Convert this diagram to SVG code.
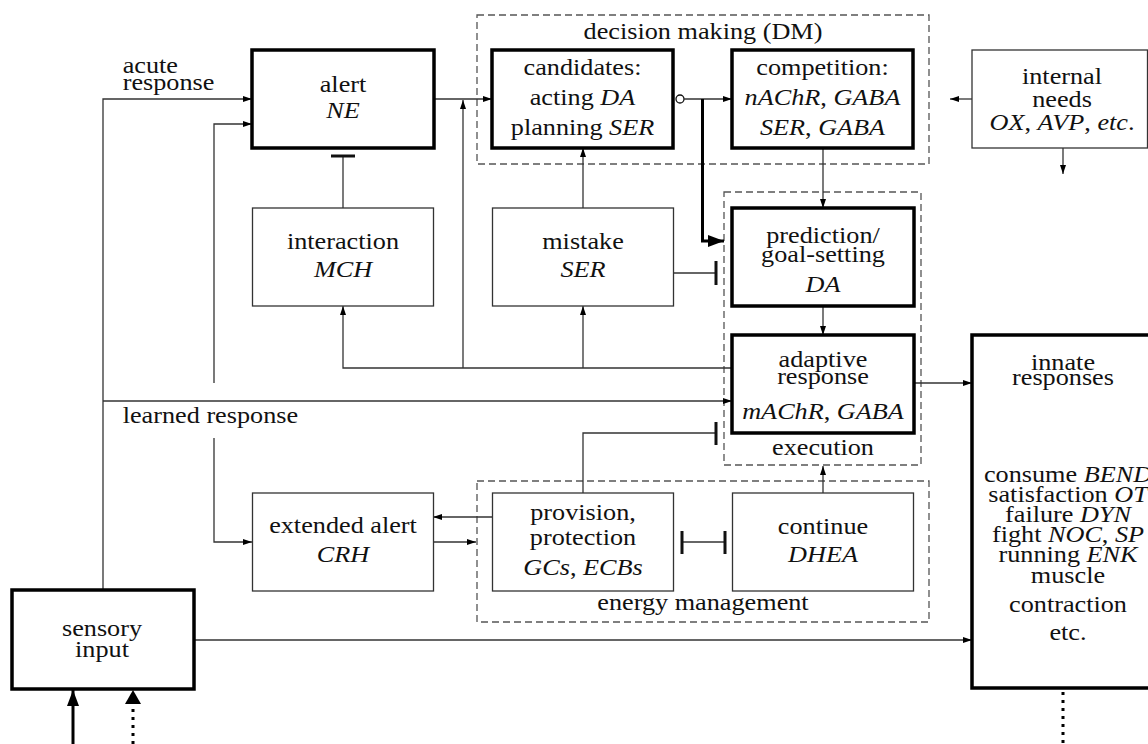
<svg xmlns="http://www.w3.org/2000/svg" width="1148" height="744" viewBox="0 0 1148 744">
<style>
text{font-family:"Liberation Serif","Times New Roman",serif;font-size:23px;fill:#111;text-anchor:middle}
.l{text-anchor:start}
.i{font-style:italic}
.thick{fill:#fff;stroke:#000;stroke-width:3.5}
.thin{fill:#fff;stroke:#333;stroke-width:1.3}
.dash{fill:none;stroke:#555;stroke-width:1.3;stroke-dasharray:7 4}
.c{fill:none;stroke:#333;stroke-width:1.3}
.a{marker-end:url(#ah)}
.bar{fill:none;stroke:#111;stroke-width:3}
.tk{fill:none;stroke:#000;stroke-width:3}
.dot{fill:none;stroke:#000;stroke-width:3;stroke-dasharray:3 5}
</style>
<defs>
<marker id="ah" markerUnits="userSpaceOnUse" markerWidth="10" markerHeight="7" refX="9" refY="3" orient="auto"><path d="M0,0 L9,3 L0,6 z" fill="#000"/></marker>
<marker id="big" markerUnits="userSpaceOnUse" markerWidth="17" markerHeight="13" refX="16" refY="6" orient="auto"><path d="M0,0 L16,6 L0,12 z" fill="#000"/></marker>
</defs>

<g id="groups">
<rect class="dash" x="477" y="15" width="452" height="149"/>
<text transform="translate(703 0) scale(1.14 1)" x="0" y="39">decision making (DM)</text>
<rect class="dash" x="724" y="192" width="197" height="273"/>
<text transform="translate(823 0) scale(1.14 1)" x="0" y="455">execution</text>
<rect class="dash" x="477" y="481" width="452" height="141"/>
<text transform="translate(703 0) scale(1.14 1)" x="0" y="610">energy management</text>
</g>

<g id="connectors">
<path class="c a" d="M103,590 V99 H252"/>
<path class="c a" d="M103,401 H732"/>
<path class="c a" d="M214,383 V124 H252"/>
<path class="c a" d="M214,438 V542 H252"/>
<path class="c a" d="M434,99 H492"/>
<path class="c a" d="M463,368 V100"/>
<path class="c a" d="M732,368 H343 V306"/>
<path class="c a" d="M583,368 V306"/>
<path class="c" d="M343,208 V156"/>
<path class="bar" d="M331,156 H355"/>
<path class="c a" d="M583,208 V148"/>
<path class="c" d="M673,273 H716"/>
<path class="bar" d="M716,261 V285"/>
<circle cx="680" cy="99" r="4" fill="#fff" stroke="#111" stroke-width="1.3"/>
<path class="c a" d="M684,99 H732"/>
<path class="tk" d="M702.5,99 V241 H724" marker-end="url(#big)"/>
<path class="c a" d="M823,148 V208"/>
<path class="c a" d="M823,306 V335"/>
<path class="c a" d="M914,383 H972"/>
<path class="c a" d="M972,99 H950"/>
<path class="c a" d="M1063,148 V174"/>
<path class="c a" d="M492,517 H433"/>
<path class="c a" d="M433,542 H476"/>
<path class="c" d="M583,493 V433 H716"/>
<path class="bar" d="M716,422 V445"/>
<path class="c a" d="M823,493 V466"/>
<path class="c" d="M682,542 H725"/>
<path class="bar" d="M682,531 V554 M725,531 V554"/>
<path class="c a" d="M194,640 H972"/>
<path class="tk" d="M73,744 V690" marker-end="url(#big)"/>
<path class="dot" d="M133,744 V704"/>
<path d="M125,704 L133,690 L141,704 z" fill="#000"/>
<path class="dot" d="M1063,692 V744"/>
</g>

<g id="acute-label">
<text class="l" transform="translate(122.7 0) scale(1.14 1)" x="0" y="73.5">acute</text>
<text class="l" transform="translate(122.7 0) scale(1.14 1)" x="0" y="90">response</text>
</g>
<g id="learned-label">
<text class="l" transform="translate(122.7 0) scale(1.14 1)" x="0" y="423">learned response</text>
</g>

<g id="alert">
<rect class="thick" x="252" y="50" width="182" height="98"/>
<text transform="translate(343 0) scale(1.14 1)"><tspan x="0" y="92">alert</tspan><tspan class="i" x="0" y="118">NE</tspan></text>
</g>
<g id="candidates">
<rect class="thick" x="492" y="50" width="181" height="98"/>
<text transform="translate(582.5 0) scale(1.14 1)"><tspan x="0" y="75">candidates:</tspan><tspan x="0" y="105">acting <tspan class="i">DA</tspan></tspan><tspan x="0" y="135">planning <tspan class="i">SER</tspan></tspan></text>
</g>
<g id="competition">
<rect class="thick" x="732" y="50" width="181" height="98"/>
<text transform="translate(822.5 0) scale(1.14 1)"><tspan x="0" y="75">competition:</tspan><tspan x="0" y="105"><tspan class="i">nAChR</tspan>, <tspan class="i">GABA</tspan></tspan><tspan x="0" y="135"><tspan class="i">SER</tspan>, <tspan class="i">GABA</tspan></tspan></text>
</g>
<g id="internal-needs">
<rect class="thin" x="972" y="50" width="175.5" height="98"/>
<text transform="translate(1062 0) scale(1.14 1)"><tspan x="0" y="84">internal</tspan><tspan x="0" y="107">needs</tspan><tspan x="0" y="130"><tspan class="i">OX</tspan>, <tspan class="i">AVP</tspan>, <tspan class="i">etc</tspan>.</tspan></text>
</g>
<g id="interaction">
<rect class="thin" x="252.5" y="208" width="181" height="98"/>
<text transform="translate(343 0) scale(1.14 1)"><tspan x="0" y="249">interaction</tspan><tspan class="i" x="0" y="277">MCH</tspan></text>
</g>
<g id="mistake">
<rect class="thin" x="492.5" y="208" width="181" height="98"/>
<text transform="translate(583 0) scale(1.14 1)"><tspan x="0" y="249">mistake</tspan><tspan class="i" x="0" y="277">SER</tspan></text>
</g>
<g id="prediction">
<rect class="thick" x="732" y="208" width="182" height="98"/>
<text transform="translate(823 0) scale(1.14 1)"><tspan x="0" y="243">prediction/</tspan><tspan x="0" y="262">goal-setting</tspan><tspan class="i" x="0" y="292">DA</tspan></text>
</g>
<g id="adaptive">
<rect class="thick" x="732" y="335" width="182" height="98"/>
<text transform="translate(823 0) scale(1.14 1)"><tspan x="0" y="367">adaptive</tspan><tspan x="0" y="384">response</tspan><tspan x="0" y="419"><tspan class="i">mAChR</tspan>, <tspan class="i">GABA</tspan></tspan></text>
</g>
<g id="innate">
<rect class="thick" x="972" y="335" width="200" height="353"/>
<text transform="translate(1063 0) scale(1.14 1)"><tspan x="0" y="370">innate</tspan><tspan x="0" y="385">responses</tspan></text>
<text transform="translate(1068 0) scale(1.14 1)"><tspan x="0" y="482">consume <tspan class="i">BEND</tspan></tspan><tspan x="0" y="502">satisfaction <tspan class="i">OT</tspan></tspan><tspan x="0" y="522">failure <tspan class="i">DYN</tspan></tspan><tspan x="0" y="542">fight <tspan class="i">NOC</tspan>, <tspan class="i">SP</tspan></tspan><tspan x="0" y="562">running <tspan class="i">ENK</tspan></tspan><tspan x="0" y="583">muscle</tspan><tspan x="0" y="612">contraction</tspan><tspan x="0" y="640">etc.</tspan></text>
</g>
<g id="extended-alert">
<rect class="thin" x="252.5" y="493" width="181" height="98"/>
<text transform="translate(343 0) scale(1.14 1)"><tspan x="0" y="533">extended alert</tspan><tspan class="i" x="0" y="562">CRH</tspan></text>
</g>
<g id="provision">
<rect class="thin" x="492.5" y="493" width="181" height="98"/>
<text transform="translate(583 0) scale(1.14 1)"><tspan x="0" y="520">provision,</tspan><tspan x="0" y="545">protection</tspan><tspan x="0" y="575"><tspan class="i">GCs</tspan>, <tspan class="i">ECBs</tspan></tspan></text>
</g>
<g id="continue">
<rect class="thin" x="732.5" y="493" width="181" height="98"/>
<text transform="translate(823 0) scale(1.14 1)"><tspan x="0" y="534">continue</tspan><tspan class="i" x="0" y="562">DHEA</tspan></text>
</g>
<g id="sensory">
<rect class="thick" x="12" y="590" width="182" height="99"/>
<text transform="translate(102 0) scale(1.14 1)"><tspan x="0" y="636">sensory</tspan><tspan x="0" y="657">input</tspan></text>
</g>
</svg>
